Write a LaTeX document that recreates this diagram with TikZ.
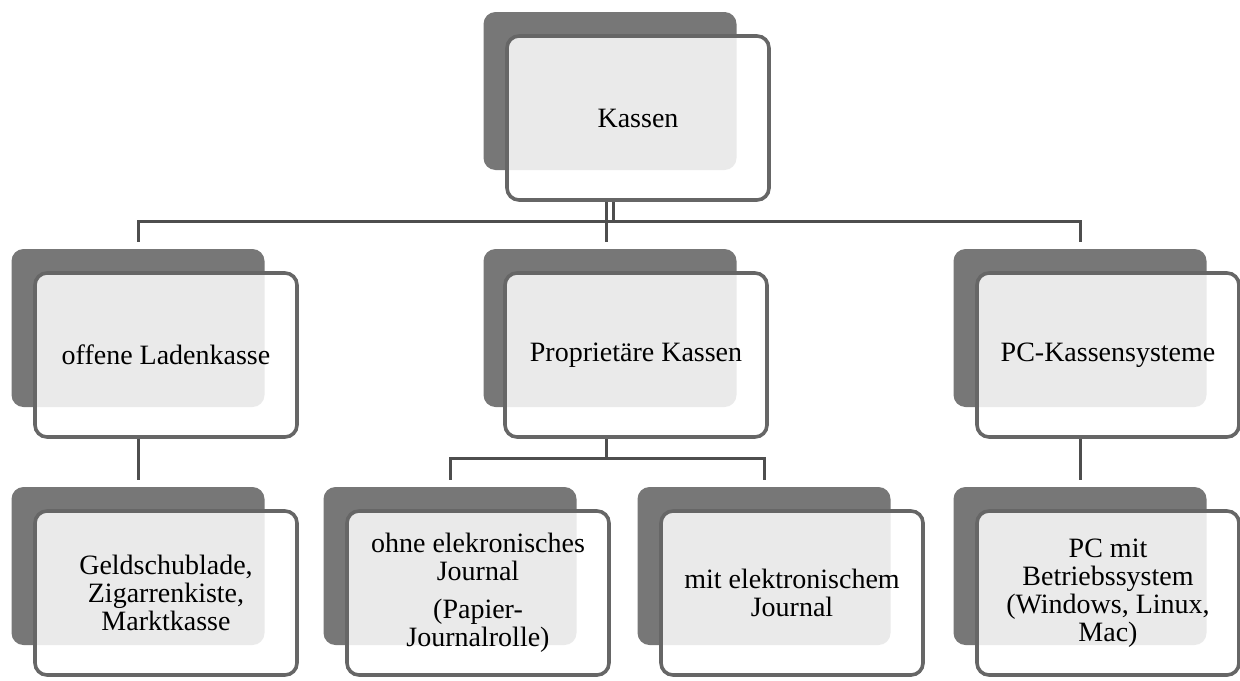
\documentclass[tikz,border=0pt]{standalone}
\usepackage{fontspec}
\setmainfont{Liberation Serif}
\definecolor{shade}{HTML}{777777}
\definecolor{rim}{HTML}{666666}
\definecolor{wire}{HTML}{4E4E4E}

\begin{document}
\begin{tikzpicture}[x=.5pt,y=-.5pt,
  back/.style={fill=shade,rounded corners=6pt,minimum width=126.5pt,minimum height=79pt,inner sep=0pt},
  box/.style={draw=rim,line width=1.8pt,rounded corners=6pt,fill=white,fill opacity=.85,text opacity=1,minimum width=131pt,minimum height=82pt,inner sep=2pt,align=center,font=\fontsize{14pt}{14pt}\selectfont},
  wire/.style={draw=wire,line width=1.5pt}]
\useasboundingbox (0,0) rectangle (1240,680);
\node[back] (ks) at (610,91){};\node[box] (k) at ([shift={(28,27)}]ks){Kassen};
\node[back] (os) at (138,328){};\node[box] (o) at ([shift={(28,27)}]os){offene Ladenkasse};
\node[back] (ps) at (610,328){};\node[box] (p) at ([shift={(26,27)}]ps){Proprietäre Kassen};
\node[back] (rs) at (1080,328){};\node[box] (r) at ([shift={(28,27)}]rs){PC-Kassensysteme};
\node[back] (gs) at (138,566){};\node[box] (g) at ([shift={(28,27)}]gs){Geldschublade,\\Zigarrenkiste,\\Marktkasse};
\node[back] (ohs) at (450,566){};\node[box] (oh) at ([shift={(28,27)}]ohs){ohne elekronisches\\Journal\\[5pt](Papier-\\Journalrolle)};
\node[back] (mis) at (764,566){};\node[box] (mi) at ([shift={(28,27)}]mis){mit elektronischem\\Journal};
\node[back] (bs) at (1080,566){};\node[box] (b) at ([shift={(28,27)}]bs){PC mit\\Betriebssystem\\(Windows, Linux,\\Mac)};
\draw[wire,double=white,double distance=2pt] (ks |- k.south)--++(0,20) coordinate (j1);
\draw[wire,shorten >=3.5pt] (j1)-|(os.north);\draw[wire,shorten >=3.5pt] (j1)-|(rs.north);\draw[wire,shorten >=3.5pt] ([xshift=-1.75pt]j1)--([xshift=-1.75pt]ps.north);
\draw[wire,shorten >=3.5pt] (os |- o.south)--(gs.north);\draw[wire,shorten >=3.5pt] (rs |- r.south)--(bs.north);
\draw[wire] ([xshift=-1.75pt]ps |- p.south)--++(0,20) coordinate (j2);
\draw[wire,shorten >=3.5pt] (j2)-|(ohs.north);\draw[wire,shorten >=3.5pt] (j2)-|(mis.north);
\end{tikzpicture}
\end{document}
